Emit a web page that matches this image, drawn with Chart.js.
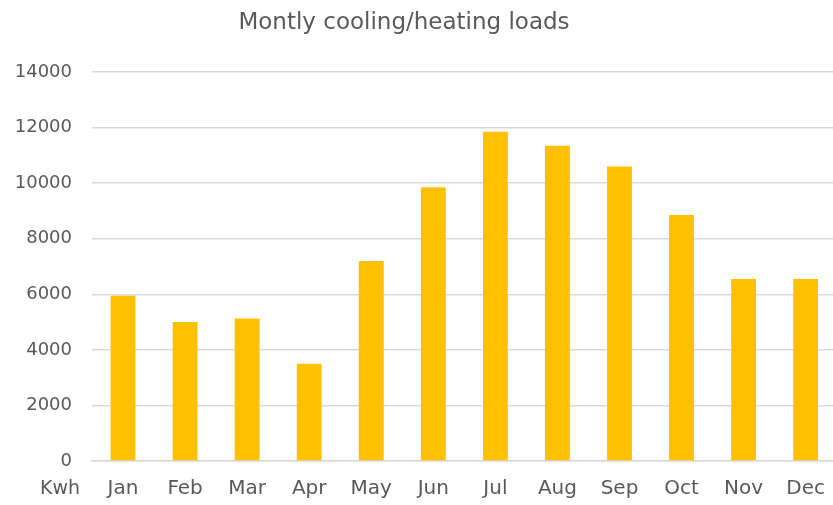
<!DOCTYPE html>
<html>
<head>
<meta charset="utf-8">
<script src="https://cdn.jsdelivr.net/npm/chart.js@4"></script>
<style>
  html, body { margin: 0; padding: 0; background: #ffffff; overflow: hidden; }
  #wrap { width: 841px; height: 505px; }
</style>
</head>
<body>
<div id="wrap"><canvas id="chart" width="841" height="505"></canvas></div>
<script>
// Monthly energy loads (kWh)
const months = ['Jan', 'Feb', 'Mar', 'Apr', 'May', 'Jun', 'Jul', 'Aug', 'Sep', 'Oct', 'Nov', 'Dec'];
const loads = [5950, 5000, 5130, 3500, 7200, 9850, 11850, 11350, 10600, 8850, 6550, 6550];
const yTicks = [0, 2000, 4000, 6000, 8000, 10000, 12000, 14000];
const chartTitle = 'Montly cooling/heating loads';
const unitLabel = 'Kwh';

const FONT = "'DejaVu Sans', sans-serif";
const TEXT = '#595959';

// Title and unit label, drawn on top of the chart
const textPlugin = {
  id: 'chartTexts',
  afterDraw(chart) {
    const { ctx, chartArea } = chart;
    ctx.save();
    ctx.fillStyle = TEXT;
    ctx.textBaseline = 'middle';

    ctx.font = '23px ' + FONT;
    ctx.textAlign = 'center';
    ctx.fillText(chartTitle, 404, 23);

    ctx.font = '19px ' + FONT;
    ctx.textAlign = 'right';
    ctx.fillText(unitLabel, chartArea.left - 12, chartArea.bottom + 28);
    ctx.restore();
  }
};

new Chart(document.getElementById('chart'), {
  type: 'bar',
  data: {
    labels: months,
    datasets: [{
      data: loads,
      backgroundColor: '#FFC000',
      categoryPercentage: 1.0,
      barPercentage: 0.4
    }]
  },
  options: {
    responsive: false,
    animation: false,
    layout: { padding: { top: 72, left: 0, right: 0, bottom: 0 } },
    plugins: {
      legend: { display: false },
      tooltip: { enabled: false },
      title: { display: false }
    },
    scales: {
      x: {
        grid: { display: false, drawTicks: false },
        border: { display: true, color: '#d9d9d9', width: 1.5 },
        ticks: {
          color: TEXT,
          font: { family: FONT, size: 20 },
          padding: 16,
          maxRotation: 0
        },
        afterFit(scale) { scale.height = 44; }
      },
      y: {
        min: 0,
        max: 14000,
        afterBuildTicks(scale) { scale.ticks = yTicks.map(v => ({ value: v })); },
        grid: { color: '#d9d9d9', lineWidth: 1.5, drawTicks: false },
        border: { display: false },
        ticks: {
          color: TEXT,
          font: { family: FONT, size: 18 },
          padding: 20,
          callback: (value) => String(value)
        },
        afterFit(scale) { scale.width = 92; }
      }
    }
  },
  plugins: [textPlugin]
});
</script>
</body>
</html>
